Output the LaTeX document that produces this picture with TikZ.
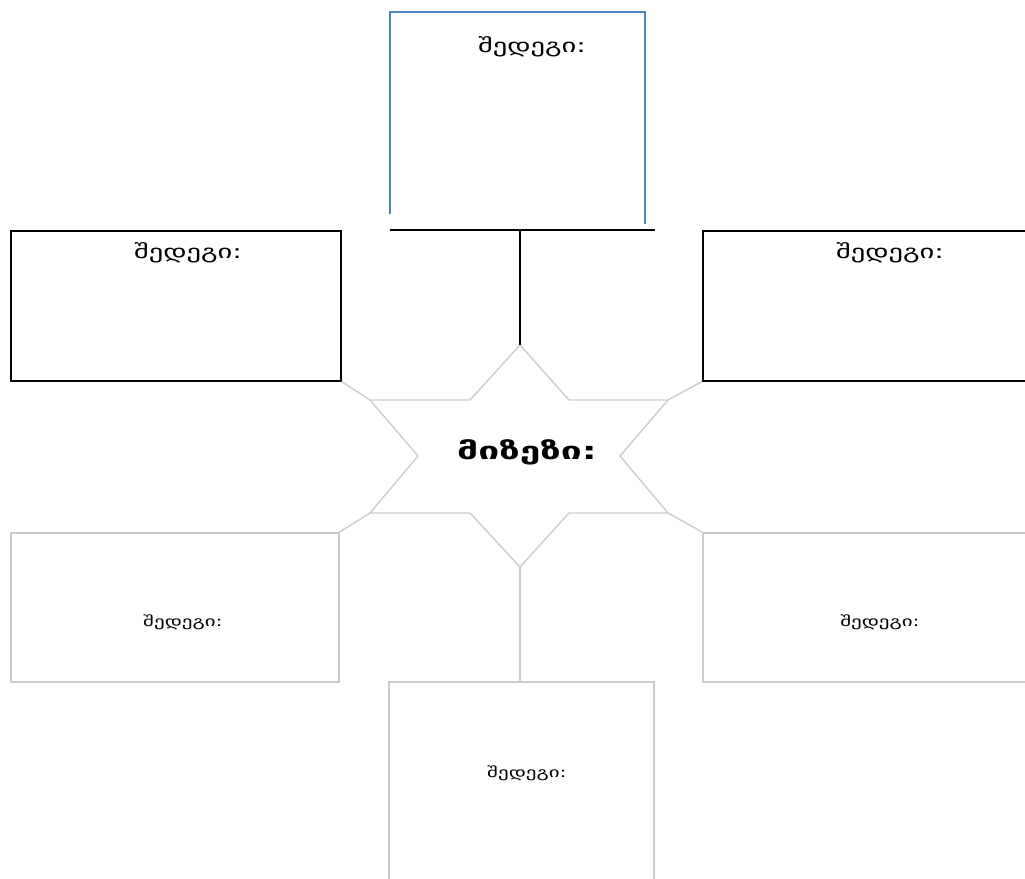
\documentclass[tikz,border=0pt]{standalone}
\usepackage{fontspec}
\setmainfont{DejaVu Sans}
\newcommand{\widetext}[2]{\scalebox{#1}[1]{#2}}
\begin{document}
\begin{tikzpicture}[x=1pt,y=-1pt,
  boxdark/.style={draw=black,line width=1.6pt},
  boxlight/.style={draw=black!20,line width=1.6pt},
  link/.style={draw=black!20,line width=1.4pt},
  linkdark/.style={draw=black,line width=1.6pt},
  toplabel/.style={font=\fontsize{19}{22}\selectfont,inner sep=0pt},
  lowlabel/.style={font=\fontsize{14}{17}\selectfont,inner sep=0pt},
  causelabel/.style={font=\bfseries\fontsize{24}{28}\selectfont,inner sep=0pt}]
\useasboundingbox (0,0) rectangle (1025,878);
\clip (0,0) rectangle (1025,878);

% six-pointed star in the middle
\coordinate (sT)  at (520,345);
\coordinate (sUL) at (370,400);
\coordinate (sUR) at (668,400);
\coordinate (sLL) at (370,513);
\coordinate (sLR) at (668,513);
\coordinate (sB)  at (520,567);
\draw[link] (sT) -- (569,400) -- (sUR) -- (620,456) -- (sLR) -- (569,513)
  -- (sB) -- (470,513) -- (sLL) -- (418,456) -- (sUL) -- (470,400) -- cycle;
\node[causelabel] (cause) at (527,452) {\widetext{1.55}{მიზეზი:}};

% upper boxes
\coordinate (tTL) at (390,12);
\coordinate (tTR) at (645,12);
\coordinate (tBL) at (390,214);
\coordinate (tBR) at (645,224);
\draw[draw={rgb,255:red,80;green,130;blue,200},line width=1.6pt]
  (tBL) -- (tTL) -- (tTR) -- (tBR);
\node[toplabel] (resTop) at (532,47) {\widetext{1.5}{შედეგი:}};
\coordinate (barL) at (390,230);
\coordinate (barR) at (655,230);
\coordinate (barM) at (520,230);
\draw[linkdark] (barL) -- (barR);
\draw[linkdark] (barM) -- (sT);

\node[boxdark,minimum width=330pt,minimum height=150pt,inner sep=0pt,anchor=north west]
  (boxUL) at (10,230) {};
\node[toplabel] (resUL) at (188,253) {\widetext{1.5}{შედეგი:}};
\node[boxdark,minimum width=330pt,minimum height=150pt,inner sep=0pt,anchor=north west]
  (boxUR) at (702,230) {};
\node[toplabel] (resUR) at (890,253) {\widetext{1.5}{შედეგი:}};

% lower boxes
\node[boxlight,minimum width=328pt,minimum height=149pt,inner sep=0pt,anchor=north west]
  (boxLL) at (10,532) {};
\node[lowlabel] (resLL) at (183,622) {\widetext{1.5}{შედეგი:}};
\node[boxlight,minimum width=330pt,minimum height=149pt,inner sep=0pt,anchor=north west]
  (boxLR) at (702,532) {};
\node[lowlabel] (resLR) at (880,622) {\widetext{1.5}{შედეგი:}};
\node[boxlight,minimum width=265pt,minimum height=210pt,inner sep=0pt,anchor=north west]
  (boxB) at (388,681) {};
\node[lowlabel] (resB) at (527,773) {\widetext{1.5}{შედეგი:}};

% connectors from star points to boxes
\draw[link] (sUL) -- (boxUL.south east);
\draw[link] (sUR) -- (boxUR.south west);
\draw[link] (sLL) -- (boxLL.north east);
\draw[link] (sLR) -- (boxLR.north west);
\draw[link] (sB) -- (sB |- boxB.north);
\end{tikzpicture}
\end{document}
